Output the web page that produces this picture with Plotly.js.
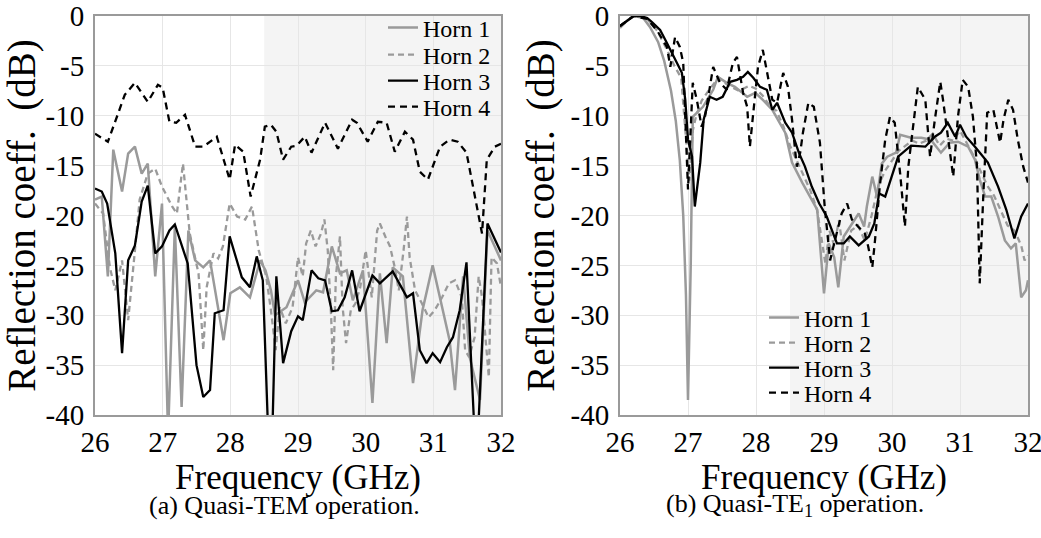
<!DOCTYPE html>
<html>
<head>
<meta charset="utf-8">
<script src="https://cdn.plot.ly/plotly-3.0.1.min.js"></script>
<style>html,body{margin:0;padding:0;background:#fff;}#chart{width:1041px;height:538px;}</style>
</head>
<body>
<div id="chart"></div>
<script>
// ---------- data ----------
const seriesNames = ["Horn 1", "Horn 2", "Horn 3", "Horn 4"];
const xTickVals = [26, 27, 28, 29, 30, 31, 32];
const xTickText = ["26", "27", "28", "29", "30", "31", "32"];
const yTickVals = [0, -5, -10, -15, -20, -25, -30, -35, -40];
const yTickText = ["0", "-5", "-10", "-15", "-20", "-25", "-30", "-35", "-40"];
const shadeStart = 28.5, shadeEnd = 32;

// (a) Quasi-TEM
const h1L_f = [26.0,26.1,26.19,26.27,26.4,26.49,26.59,26.69,26.78,26.89,26.99,27.08,27.18,27.28,27.38,27.48,27.6,27.7,27.9,28.0,28.14,28.29,28.44,28.52,28.6,28.66,28.83,29.0,29.1,29.27,29.37,29.5,29.62,29.72,29.81,29.96,30.1,30.21,30.31,30.4,30.55,30.7,30.84,30.99,31.14,31.24,31.32,31.44,31.54,31.69,31.8,31.95,32.0];
const h1L_v = [-18.4,-18.1,-26.1,-13.4,-17.6,-13.8,-13.1,-15.8,-14.8,-26.1,-18.8,-42,-21.1,-39.2,-21.5,-24.5,-25.2,-24.5,-32.5,-27.8,-27.2,-28.2,-24.5,-25.5,-27.5,-30,-29.2,-26.5,-28.7,-27.5,-27.7,-23.1,-25.8,-25.5,-28.5,-25.5,-38.8,-25.8,-32.8,-25.2,-26.1,-36.8,-29.5,-25.0,-29.5,-32.5,-37.5,-26.1,-34.3,-38.5,-21.5,-23.8,-24.5];
const h2L_f = [26.0,26.12,26.22,26.3,26.4,26.49,26.59,26.66,26.78,26.89,26.99,27.14,27.21,27.3,27.4,27.53,27.6,27.65,27.75,27.82,27.89,27.99,28.1,28.22,28.32,28.42,28.53,28.6,28.67,28.73,28.82,28.92,29.0,29.07,29.12,29.19,29.26,29.34,29.39,29.44,29.49,29.52,29.56,29.62,29.66,29.71,29.78,29.85,29.92,30.0,30.05,30.09,30.17,30.21,30.29,30.36,30.43,30.49,30.56,30.61,30.65,30.73,30.83,30.93,31.02,31.13,31.23,31.32,31.42,31.47,31.53,31.61,31.67,31.72,31.82,31.86,31.94,32.0];
const h2L_v = [-18.8,-19.8,-25.2,-27.5,-24.5,-30.5,-23.5,-18.4,-15.8,-15.3,-17.1,-19.1,-19.8,-14.8,-21.8,-25.8,-33.5,-27.2,-23.8,-24.3,-23.1,-18.8,-20.1,-20.4,-19.1,-23.5,-26.1,-29.5,-33.5,-29.2,-30.8,-29.2,-24.2,-26.1,-22.8,-21.5,-23.1,-21.8,-20.4,-23.5,-30.2,-35.5,-26.1,-22.1,-29.2,-32.8,-29.5,-28.8,-27.2,-23.5,-26.1,-28.2,-21.5,-20.8,-22.1,-23.1,-25.2,-27.5,-23.5,-20.1,-24.2,-27.5,-28.8,-30.2,-29.5,-28.2,-26.8,-26.5,-28.2,-33.5,-34.2,-32.2,-26.1,-28.2,-36.2,-24.2,-24.8,-27.2];
const h3L_f = [26.0,26.1,26.18,26.22,26.3,26.4,26.49,26.59,26.69,26.78,26.89,26.99,27.1,27.18,27.37,27.5,27.6,27.7,27.77,27.9,27.99,28.17,28.29,28.39,28.48,28.56,28.62,28.68,28.78,28.9,29.0,29.07,29.2,29.3,29.4,29.5,29.59,29.69,29.8,29.91,30.1,30.21,30.4,30.61,30.7,30.8,30.9,30.99,31.1,31.2,31.29,31.39,31.49,31.61,31.66,31.8,31.95,32.0];
const h3L_v = [-17.3,-17.6,-18.8,-20.4,-23.8,-33.8,-24.5,-23.0,-18.6,-17.0,-23.8,-23.1,-21.5,-20.9,-24.8,-35.0,-38.2,-37.5,-29.8,-29.5,-22.1,-26.2,-27.2,-24.1,-26.5,-42,-42,-26.1,-34.8,-31.6,-30.1,-30.5,-25.5,-26.3,-26.5,-29.6,-29.5,-28.2,-25.5,-29.6,-26.0,-26.8,-25.6,-28.2,-27.8,-33.5,-34.8,-33.8,-34.7,-33.2,-32.2,-29.5,-24.7,-42,-42,-20.8,-23.1,-23.7];
const h4L_f = [26.0,26.19,26.34,26.44,26.59,26.74,26.78,26.93,27.0,27.1,27.2,27.33,27.48,27.6,27.8,27.99,28.07,28.19,28.3,28.44,28.51,28.6,28.68,28.78,28.9,28.98,29.1,29.2,29.4,29.59,29.8,29.87,30.03,30.18,30.31,30.43,30.58,30.7,30.8,30.92,31.1,31.24,31.36,31.49,31.64,31.72,31.79,31.91,32.0];
const h4L_v = [-11.8,-12.6,-9.8,-7.9,-6.7,-8.1,-8.6,-6.9,-7.2,-10.6,-10.7,-9.9,-13.1,-13.1,-12.1,-16.4,-12.9,-13.6,-18.1,-14.4,-11.1,-10.9,-11.6,-14.4,-13.1,-13.0,-12.1,-13.7,-10.7,-13.3,-10.4,-10.7,-12.6,-10.6,-10.7,-13.6,-11.6,-12.4,-15.6,-16.4,-13.1,-12.4,-12.6,-13.7,-19.1,-21.8,-14.4,-13.1,-12.8];

// (b) Quasi-TE1
const h1R_f = [26.0,26.1,26.2,26.32,26.44,26.56,26.65,26.75,26.82,26.88,26.93,26.97,27.0,27.04,27.07,27.22,27.37,27.44,27.57,27.69,27.87,27.99,28.1,28.24,28.43,28.53,28.68,28.79,28.9,29.0,29.07,29.15,29.21,29.29,29.41,29.51,29.59,29.63,29.71,29.78,29.85,29.93,30.06,30.12,30.28,30.43,30.57,30.72,30.85,30.97,31.12,31.22,31.29,31.37,31.46,31.56,31.66,31.75,31.82,31.9,31.97,32.0];
const h1R_v = [-1.2,-0.5,0,0,-1.1,-2.6,-4.5,-7.5,-10.5,-14.5,-20,-28,-38.5,-25,-10.1,-9.1,-7.4,-6.1,-6.7,-7.1,-8.1,-7.7,-8.4,-9.4,-11.7,-14.7,-16.7,-18.1,-19.4,-27.8,-22.8,-24.2,-27.2,-22.1,-20.8,-19.8,-21.1,-19.1,-16.1,-18.1,-14.8,-14.1,-13.7,-11.9,-12.2,-12.2,-12.4,-13.7,-12.7,-12.6,-13.1,-14.4,-16.4,-18.1,-18.1,-20.1,-22.5,-23.3,-22.8,-28.2,-27.5,-26.5];
const h2R_f = [26.0,26.2,26.4,26.55,26.7,26.8,26.9,26.97,27.02,27.07,27.12,27.2,27.3,27.45,27.6,27.75,27.9,28.0,28.1,28.2,28.3,28.4,28.5,28.6,28.7,28.8,28.9,28.97,29.02,29.08,29.15,29.22,29.3,29.4,29.5,29.6,29.7,29.8,29.9,30.0,30.1,30.2,30.3,30.4,30.5,30.6,30.7,30.8,30.9,31.0,31.1,31.2,31.3,31.4,31.5,31.6,31.7,31.8,31.9,31.95,32.0];
const h2R_v = [-1.0,0,-0.3,-1.5,-3.5,-5.0,-6.2,-12.0,-16.5,-11.5,-10.0,-8.5,-7.5,-6.2,-7.0,-7.5,-7.0,-7.3,-8.0,-9.0,-9.5,-11.0,-13.0,-14.5,-16.0,-17.5,-19.5,-22.5,-24.8,-21.5,-23.0,-20.5,-24.5,-21.5,-21.0,-22.5,-20.0,-17.0,-15.5,-14.5,-13.5,-13.0,-12.5,-12.8,-12.5,-11.8,-13.0,-12.3,-12.5,-11.5,-12.8,-14.0,-15.5,-17.0,-18.0,-19.5,-21.0,-21.5,-23.0,-24.5,-24.0];
const h3R_f = [26.0,26.1,26.2,26.3,26.4,26.47,26.59,26.69,26.79,26.91,26.96,27.0,27.06,27.1,27.18,27.23,27.32,27.42,27.51,27.62,27.72,27.81,27.88,27.96,28.06,28.16,28.24,28.31,28.43,28.53,28.63,28.72,28.82,28.93,29.04,29.12,29.19,29.29,29.38,29.51,29.66,29.74,29.81,29.9,30.0,30.09,30.28,30.49,30.63,30.72,30.82,30.93,31.0,31.09,31.22,31.41,31.56,31.68,31.8,31.9,32.0];
const h3R_v = [-1.0,-0.5,0,0,-0.2,-0.6,-1.4,-2.7,-4.1,-5.7,-8.4,-12.4,-14.1,-19.1,-14.7,-10.4,-8.1,-8.4,-8.1,-6.6,-6.4,-6.1,-5.6,-6.2,-7.1,-7.4,-9.4,-8.7,-10.7,-11.7,-13.7,-15.1,-17.1,-18.8,-20.1,-21.5,-22.8,-22.8,-22.1,-23.0,-22.1,-20.8,-17.8,-18.1,-16.1,-14.1,-13.0,-13.1,-12.1,-11.7,-10.7,-12.1,-10.9,-12.1,-13.1,-14.7,-17.1,-19.4,-22.3,-20.1,-18.8];
const h4R_f = [26.0,26.2,26.4,26.55,26.69,26.74,26.81,26.88,26.93,26.98,27.0,27.07,27.13,27.2,27.25,27.37,27.47,27.57,27.66,27.72,27.81,27.87,27.91,27.96,28.03,28.1,28.16,28.24,28.31,28.4,28.47,28.53,28.6,28.65,28.69,28.77,28.85,28.94,29.01,29.09,29.16,29.26,29.34,29.41,29.5,29.6,29.65,29.71,29.75,29.82,29.9,29.97,30.04,30.12,30.19,30.24,30.31,30.38,30.49,30.56,30.63,30.71,30.75,30.81,30.9,30.97,31.04,31.12,31.19,31.25,31.29,31.34,31.4,31.49,31.59,31.64,31.71,31.78,31.85,31.93,32.0];
const h4R_v = [-1.0,0,-0.3,-1.5,-3.1,-5.1,-2.1,-3.1,-4.7,-15.1,-17.4,-6.7,-8.4,-11.1,-10.1,-5.1,-6.7,-7.4,-4.7,-4.1,-7.7,-9.1,-13.1,-9.7,-5.1,-3.4,-5.7,-8.4,-8.7,-5.7,-7.1,-10.4,-15.1,-13.7,-11.7,-8.7,-9.1,-12.7,-19.1,-24.5,-22.5,-19.8,-18.8,-20.4,-21.1,-21.8,-23.1,-25.2,-22.5,-17.1,-12.4,-10.1,-10.7,-15.8,-21.1,-15.1,-11.1,-7.1,-8.4,-14.1,-10.4,-6.6,-8.4,-11.7,-16.1,-10.1,-6.4,-7.1,-10.1,-15.1,-26.8,-18.4,-9.7,-9.4,-12.7,-10.4,-8.4,-9.4,-12.4,-15.1,-16.7];

const captionA = "(a) Quasi-TEM operation.";
const captionB = "(b) Quasi-TE<sub>1</sub> operation.";
const yTitle = "Reflection coeff.  (dB)";
const xTitle = "Frequency (GHz)";

// ---------- styling ----------
const W = 1041, H = 538;
const SERIF = "Liberation Serif";
const lineStyles = [
  {color: "#9a9a9a", width: 2.5, dash: "solid"},
  {color: "#9a9a9a", width: 2.3, dash: "6px,4px"},
  {color: "#000000", width: 2.3, dash: "solid"},
  {color: "#000000", width: 2.3, dash: "7px,5px"}
];
const px = v => v / W, py = v => 1 - v / H;

const leftSets = [[h1L_f, h1L_v], [h2L_f, h2L_v], [h3L_f, h3L_v], [h4L_f, h4L_v]];
const rightSets = [[h1R_f, h1R_v], [h2R_f, h2R_v], [h3R_f, h3R_v], [h4R_f, h4R_v]];

const traces = [];
leftSets.forEach((s, i) => traces.push({
  type: "scatter", mode: "lines", x: s[0], y: s[1], name: seriesNames[i],
  xaxis: "x", yaxis: "y", line: lineStyles[i], legend: i === 0 ? "legend" : "legend" + (i + 1)
}));
rightSets.forEach((s, i) => traces.push({
  type: "scatter", mode: "lines", x: s[0], y: s[1], name: seriesNames[i],
  xaxis: "x2", yaxis: "y2", line: lineStyles[i], legend: "legend" + (i + 5)
}));

const legendRowsL = [28, 55, 81, 107];
const legendRowsR = [318, 343, 368, 393];
function legendBox(xpx, ypx) {
  return {x: px(xpx), xanchor: "left", y: py(ypx), yanchor: "middle",
    bgcolor: "rgba(0,0,0,0)", borderwidth: 0,
    font: {family: SERIF, size: 24, color: "#000"}};
}

function xaxisDef(domain, anchor) {
  return {
    domain: domain, anchor: anchor, range: [26, 32], tickmode: "array",
    tickvals: xTickVals, ticktext: xTickText, ticks: "", showgrid: true,
    gridcolor: "#e6e6e6", gridwidth: 1, zeroline: false, ticklabeloverflow: "allow",
    showline: true, linecolor: "#9a9a9a", linewidth: 2, mirror: true,
    tickfont: {family: SERIF, size: 29, color: "#000"},
    title: {text: xTitle, font: {family: SERIF, size: 35, color: "#000"}, standoff: 0}
  };
}
function yaxisDef(domain, anchor) {
  return {
    domain: domain, anchor: anchor, range: [-40, 0], tickmode: "array",
    tickvals: yTickVals, ticktext: yTickText, ticks: "", showgrid: true,
    gridcolor: "#e6e6e6", gridwidth: 1, zeroline: false, ticklabeloverflow: "allow",
    showline: true, linecolor: "#9a9a9a", linewidth: 2, mirror: true,
    tickfont: {family: SERIF, size: 29, color: "#000"}, ticklabelstandoff: 3,
    title: {text: yTitle, font: {family: SERIF, size: 39, color: "#000"}, standoff: 4}
  };
}

const yDom = [1 - 415 / H, 1 - 16 / H];
const layout = {
  width: W, height: H, margin: {l: 0, r: 0, t: 0, b: 0},
  paper_bgcolor: "#fff", plot_bgcolor: "#fff",
  font: {family: SERIF, color: "#000"},
  showlegend: true,
  xaxis: xaxisDef([95 / W, 501 / W], "y"),
  yaxis: yaxisDef(yDom, "x"),
  xaxis2: xaxisDef([620 / W, 1028 / W], "y2"),
  yaxis2: yaxisDef(yDom, "x2"),
  shapes: [
    {type: "rect", xref: "x", yref: "y domain", x0: shadeStart, x1: shadeEnd, y0: 0, y1: 1,
     fillcolor: "#f4f4f4", line: {width: 0}, layer: "below"},
    {type: "rect", xref: "x2", yref: "y2 domain", x0: shadeStart, x1: shadeEnd, y0: 0, y1: 1,
     fillcolor: "#f4f4f4", line: {width: 0}, layer: "below"}
  ],
  annotations: [
    {text: captionA, xref: "paper", yref: "paper", x: px(284), y: py(505), xanchor: "center", yanchor: "middle",
     showarrow: false, font: {family: SERIF, size: 26, color: "#000"}},
    {text: captionB, xref: "paper", yref: "paper", x: px(795), y: py(505), xanchor: "center", yanchor: "middle",
     showarrow: false, font: {family: SERIF, size: 26, color: "#000"}}
  ]
};
legendRowsL.forEach((r, i) => { layout[i === 0 ? "legend" : "legend" + (i + 1)] = legendBox(383, r); });
legendRowsR.forEach((r, i) => { layout["legend" + (i + 5)] = legendBox(764, r); });

Plotly.newPlot("chart", traces, layout, {displayModeBar: false, staticPlot: true});
</script>
</body>
</html>
